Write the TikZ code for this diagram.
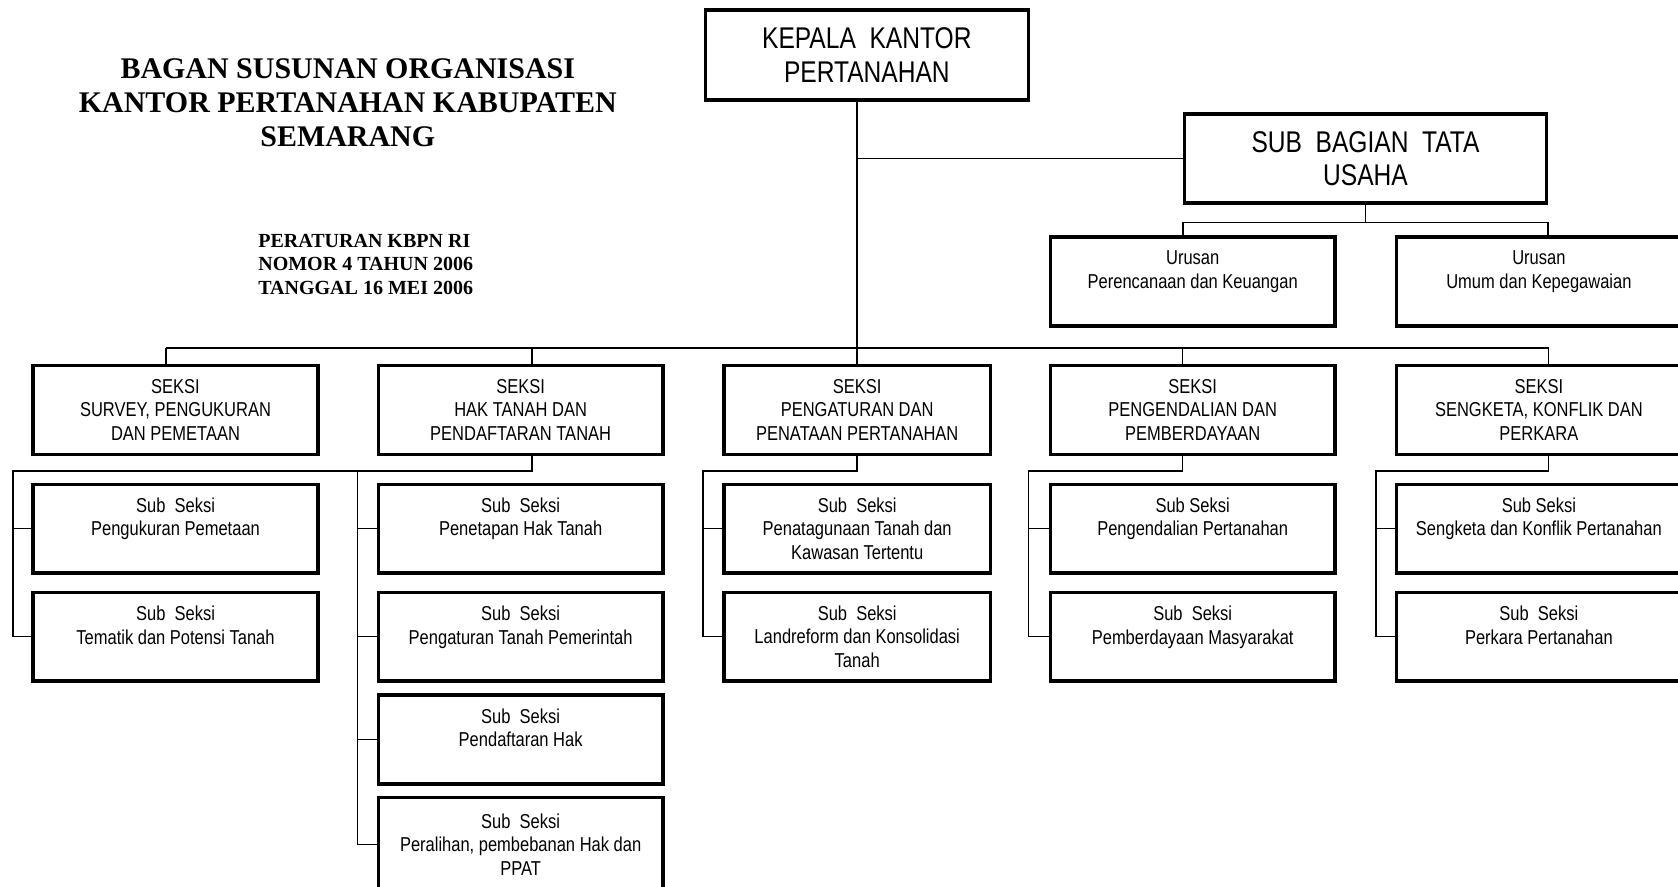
\documentclass[tikz,border=0pt]{standalone}
\usepackage{fontspec}
\newfontfamily\boxfont{Liberation Sans}[FakeStretch=0.82]
\newfontfamily\titlefont{Liberation Serif}
\usetikzlibrary{calc}

\begin{document}
\begin{tikzpicture}[
  x=0.5pt, y=-0.5pt,
  box/.style={draw, line width=1.6pt, align=center, inner sep=0pt,
              minimum width=133pt, minimum height=41.5pt,
              font=\boxfont\fontsize{9.4}{11}\selectfont},
  narrowbox/.style={box, minimum width=124.4pt},
  headbox/.style={box, font=\boxfont\fontsize{14}{15.5}\selectfont},
  titletext/.style={align=center, inner sep=0pt,
                    font=\titlefont\bfseries\fontsize{14}{16}\selectfont},
  reftext/.style={align=left, inner sep=0pt,
                  font=\titlefont\bfseries\fontsize{9.35}{11}\selectfont},
  link/.style={line width=0.7pt}
]
\useasboundingbox (0,0) rectangle (1568,828);

% ---------------- Title ----------------
\node[titletext] (title) at (325,96)
  {BAGAN SUSUNAN ORGANISASI\\KANTOR PERTANAHAN KABUPATEN\\SEMARANG};
\node[reftext, anchor=west] (regul) at (241,247)
  {PERATURAN KBPN RI\\NOMOR 4 TAHUN 2006\\TANGGAL 16 MEI 2006};

% ---------------- Head ----------------
\node[headbox, minimum width=151pt, minimum height=42pt] (kepala) at (810,51.5)
  {KEPALA~~KANTOR\\PERTANAHAN};
\node[headbox, minimum width=169pt] (subbag) at (1276,148)
  {SUB~~BAGIAN~~TATA\\USAHA};
\node[box] (urusanA) at (1114.5,263) {Urusan\\Perencanaan dan Keuangan\\~};
\node[box] (urusanB) at (1438,263) {Urusan\\Umum dan Kepegawaian\\~};

% ---------------- Seksi ----------------
\node[box] (seksiA) at (164,383) {SEKSI\\SURVEY, PENGUKURAN\\DAN PEMETAAN};
\node[box] (seksiB) at (486.5,383) {SEKSI\\HAK TANAH DAN\\PENDAFTARAN TANAH};
\node[narrowbox] (seksiC) at (801,383) {SEKSI\\PENGATURAN DAN\\PENATAAN PERTANAHAN};
\node[box] (seksiD) at (1114.5,383) {SEKSI\\PENGENDALIAN DAN\\PEMBERDAYAAN};
\node[box] (seksiE) at (1438,383) {SEKSI\\SENGKETA, KONFLIK DAN\\PERKARA};

% ---------------- Sub Seksi ----------------
\node[box] (subA1) at (164,494) {Sub~~Seksi\\Pengukuran Pemetaan\\~};
\node[box] (subA2) at (164,595) {Sub~~Seksi\\Tematik dan Potensi Tanah\\~};

\node[box] (subB1) at (486.5,494) {Sub~~Seksi\\Penetapan Hak Tanah\\~};
\node[box] (subB2) at (486.5,595) {Sub~~Seksi\\Pengaturan Tanah Pemerintah\\~};
\node[box] (subB3) at (486.5,691) {Sub~~Seksi\\Pendaftaran Hak\\~};
\node[box, minimum height=44pt] (subB4) at (486.5,789) {Sub~~Seksi\\Peralihan, pembebanan Hak dan\\PPAT};

\node[narrowbox] (subC1) at (801,494) {Sub~~Seksi\\Penatagunaan Tanah dan\\Kawasan Tertentu};
\node[narrowbox] (subC2) at (801,595) {Sub~~Seksi\\Landreform dan Konsolidasi\\Tanah};

\node[box] (subD1) at (1114.5,494) {Sub Seksi\\Pengendalian Pertanahan\\~};
\node[box] (subD2) at (1114.5,595) {Sub~~Seksi\\Pemberdayaan Masyarakat\\~};

\node[box] (subE1) at (1438,494) {Sub Seksi\\Sengketa dan Konflik Pertanahan\\~};
\node[box] (subE2) at (1438,595) {Sub~~Seksi\\Perkara Pertanahan\\~};

% ---------------- Connectors ----------------
\coordinate (dA) at (155,325);
\coordinate (dB) at (497,325);
\coordinate (dD) at (1105,325);
\coordinate (dE) at (1447,325);
\coordinate (rA) at (12,440);
\coordinate (rB) at (334,440);
\coordinate (rC) at (657,440);
\coordinate (rD) at (961,440);
\coordinate (rE) at (1286,440);

% head to seksi
\draw[link] (kepala.south -| seksiC.north) -- (seksiC.north);
\draw[link] (subbag.west -| seksiC.north) -- (subbag.west);
\draw[link] (subbag.south) -- ++(0,17) coordinate (tu);
\draw[link] (urusanA.north -| subbag.west) |- (tu) -| (urusanB.north -| subbag.east);

% bus
\draw[link] (dA) -- (dE);
\draw[link] (dA) -- (dA |- seksiA.north);
\draw[link] (dB) -- (dB |- seksiB.north);
\draw[link] (dD) -- (dD |- seksiD.north);
\draw[link] (dE) -- (dE |- seksiE.north);

% sub seksi rails
\draw[link] (dB |- seksiB.south) |- (rA) -- (rA |- subA2.west) -- (subA2.west);
\draw[link] (rA |- subA1.west) -- (subA1.west);

\draw[link] (rB) -- (rB |- subB4.west) -- (subB4.west);
\draw[link] (rB |- subB1.west) -- (subB1.west);
\draw[link] (rB |- subB2.west) -- (subB2.west);
\draw[link] (rB |- subB3.west) -- (subB3.west);

\draw[link] (seksiC.south) |- (rC) -- (rC |- subC2.west) -- (subC2.west);
\draw[link] (rC |- subC1.west) -- (subC1.west);

\draw[link] (dD |- seksiD.south) |- (rD) -- (rD |- subD2.west) -- (subD2.west);
\draw[link] (rD |- subD1.west) -- (subD1.west);

\draw[link] (dE |- seksiE.south) |- (rE) -- (rE |- subE2.west) -- (subE2.west);
\draw[link] (rE |- subE1.west) -- (subE1.west);

\end{tikzpicture}
\end{document}
